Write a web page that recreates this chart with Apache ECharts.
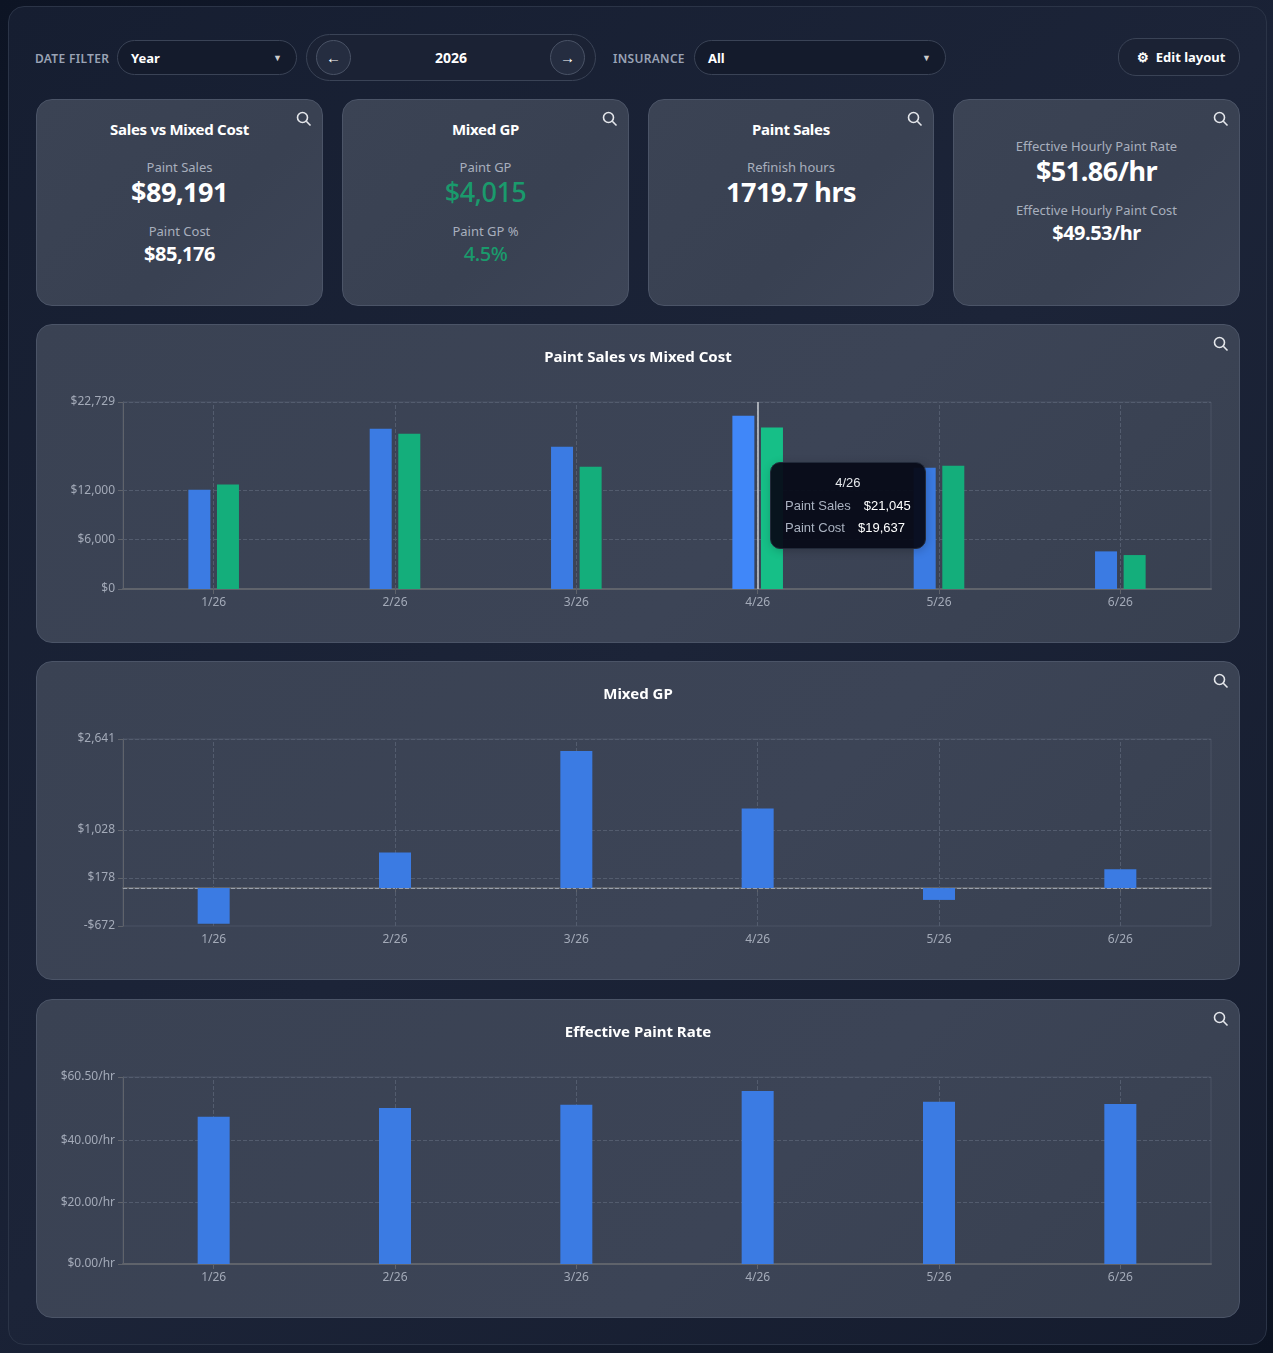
<!DOCTYPE html>
<html><head><meta charset="utf-8">
<script src="https://cdn.jsdelivr.net/npm/echarts@6/dist/echarts.min.js"></script>
<style>
*{box-sizing:border-box}
body{margin:0;width:1273px;height:1353px;background:linear-gradient(135deg,#0d1424,#1a2236 50%,#0c1322);font-family:"Noto Sans",sans-serif;color:#e5e7eb;position:relative;overflow:hidden}
#outer{position:absolute;left:8px;top:6px;width:1259px;height:1339px;border:1px solid #2b3447;border-radius:16px;background:linear-gradient(135deg,#161e31,#1c2438 50%,#151c2e)}
.abs{position:absolute}
.lbl{font-size:12px;font-weight:600;color:#9aa3b5;letter-spacing:.3px}
.sel{border:1px solid #3a4356;border-radius:18px;background:#141b2c;height:35px;font-size:13px;font-weight:700;color:#fff;padding:8px 13px}
.sel span{position:absolute;right:14px;top:10px;font-size:9px;color:#ccc}
.card{position:absolute;border:1px solid #4b5467;border-radius:16px;background:linear-gradient(135deg,#3b4354,#394152 60%,#3d4557);text-align:center}
.card .t{font-size:15px;font-weight:700;color:#fff;margin-top:19px;letter-spacing:-.3px}
.card .s{font-size:13px;color:#a8afbd}
.card .v{font-weight:700;color:#fff;letter-spacing:-.5px}
.mag{position:absolute;right:10px;top:11px;width:16px;height:16px}
.panel{position:absolute;left:36px;width:1204px;height:319px;border:1px solid #4b5467;border-radius:16px;background:linear-gradient(135deg,#3a4253,#3c4456 60%,#384050)}
.panel .c{position:absolute;left:0;top:0;width:100%;height:100%}
</style></head><body>
<div id="outer"></div>
<div class="abs lbl" style="left:35px;top:50px">DATE FILTER</div>
<div class="abs sel" style="left:117px;top:40px;width:180px">Year<span>▼</span></div>
<div class="abs" style="left:306px;top:34px;width:290px;height:47px;border:1px solid #3a4356;border-radius:24px;background:#1b2234"></div>
<div class="abs" style="left:316px;top:40px;width:35px;height:35px;border:1px solid #4a5366;border-radius:50%;background:#252d40;text-align:center;line-height:33px;font-size:15px;color:#fff">←</div>
<div class="abs" style="left:550px;top:40px;width:35px;height:35px;border:1px solid #4a5366;border-radius:50%;background:#252d40;text-align:center;line-height:33px;font-size:15px;color:#fff">→</div>
<div class="abs" style="left:420px;top:48px;width:62px;text-align:center;font-size:14px;font-weight:700;color:#fff">2026</div>
<div class="abs lbl" style="left:613px;top:50px">INSURANCE</div>
<div class="abs sel" style="left:694px;top:40px;width:252px">All<span>▼</span></div>
<div class="abs sel" style="left:1118px;top:38px;width:122px;height:38px;padding:9px 0 0 18px;background:#1b2234">⚙&nbsp;&nbsp;Edit layout</div>

<div class="card" style="left:36px;top:99px;width:287px;height:207px">
 <div class="t">Sales vs Mixed Cost</div>
 <div class="s" style="margin-top:19px">Paint Sales</div>
 <div class="v" style="font-size:27px;line-height:32px">$89,191</div>
 <div class="s" style="margin-top:14px">Paint Cost</div>
 <div class="v" style="font-size:20px;line-height:28px">$85,176</div>
</div>
<div class="card" style="left:342px;top:99px;width:287px;height:207px">
 <div class="t">Mixed GP</div>
 <div class="s" style="margin-top:19px">Paint GP</div>
 <div class="v" style="font-size:27px;line-height:32px;color:#1a9a6c;font-weight:500">$4,015</div>
 <div class="s" style="margin-top:14px">Paint GP %</div>
 <div class="v" style="font-size:20px;line-height:28px;color:#1a9a6c;font-weight:500">4.5%</div>
</div>
<div class="card" style="left:648px;top:99px;width:286px;height:207px">
 <div class="t">Paint Sales</div>
 <div class="s" style="margin-top:19px">Refinish hours</div>
 <div class="v" style="font-size:27px;line-height:32px">1719.7 hrs</div>
</div>
<div class="card" style="left:953px;top:99px;width:287px;height:207px">
 <div class="s" style="margin-top:37px">Effective Hourly Paint Rate</div>
 <div class="v" style="font-size:27px;line-height:32px">$51.86/hr</div>
 <div class="s" style="margin-top:14px">Effective Hourly Paint Cost</div>
 <div class="v" style="font-size:20px;line-height:28px">$49.53/hr</div>
</div>

<div class="panel" style="top:324px"><div class="c" id="c1"></div></div>
<div class="panel" style="top:661px"><div class="c" id="c2"></div></div>
<div class="panel" style="top:999px"><div class="c" id="c3"></div></div>

<script>
const categories=['1/26','2/26','3/26','4/26','5/26','6/26'];
const paintSales=[12070,19465,17288,21045,14750,4573];
const paintCost=[12694,18860,14870,19637,14990,4125];
const mixedGP=[-630,630,2430,1408,-210,335];
const paintRate=[47.6,50.5,51.5,56.0,52.5,51.8];
const ticks1=[0,6000,12000,22729];
const ticks2=[-672,178,1028,2641];
const ticks3=[0,20,40,60.5];

const magSvg='<svg class="mag" viewBox="0 0 16 16"><circle cx="6.5" cy="6.5" r="5" fill="none" stroke="#e5e7eb" stroke-width="1.6"/><line x1="10.3" y1="10.3" x2="14.5" y2="14.5" stroke="#e5e7eb" stroke-width="1.6"/></svg>';
document.querySelectorAll('.card,.panel').forEach(e=>e.insertAdjacentHTML('beforeend',magSvg));

const money=v=>(v<0?'-$':'$')+Math.abs(Math.round(v)).toLocaleString('en-US');
const axisLbl={color:'#a3aab8',fontSize:12,fontFamily:'Noto Sans'};
const gridStyle={color:'#535c6e',type:'dashed',width:1};
function build(title,ticks,fmt,series){
 series.forEach(s=>s.z=5);
 const grid=[...ticks.slice(1).map(v=>({yAxis:v})),...categories.map(c=>({xAxis:c}))];
 series.push({type:'line',data:[],silent:true,z:1,markLine:{silent:true,symbol:'none',label:{show:false},lineStyle:gridStyle,data:grid}});
 return{
 animation:false,
 title:{text:title,left:'center',top:20,textStyle:{color:'#fff',fontSize:15,fontWeight:'bold',fontFamily:'Noto Sans'}},
 grid:{left:86,right:28,top:77,bottom:53,show:true,borderColor:'#4a5365',borderWidth:1},
 xAxis:{type:'category',data:categories,axisLine:{lineStyle:{color:'#5f636b',width:2}},axisTick:{show:true,alignWithLabel:true,lineStyle:{color:'#5f636b'}},axisLabel:axisLbl,splitLine:{show:false}},
 yAxis:{type:'value',min:ticks[0],max:ticks[ticks.length-1],axisLine:{show:true,lineStyle:{color:'#5f636b'}},
  axisTick:{show:true,customValues:ticks,lineStyle:{color:'#5f636b'}},
  axisLabel:Object.assign({},axisLbl,{customValues:ticks,formatter:fmt}),splitLine:{show:false}},
 series};
}
const c1=echarts.init(document.getElementById('c1'));
const o1=build('Paint Sales vs Mixed Cost',ticks1,money,[
 {name:'Paint Sales',type:'bar',data:paintSales,barWidth:22,barGap:'30%',itemStyle:{color:'#3b7be3'}},
 {name:'Paint Cost',type:'bar',data:paintCost,barWidth:22,itemStyle:{color:'#14ae7b'}}]);
o1.tooltip={trigger:'axis',alwaysShowContent:true,axisPointer:{type:'line',lineStyle:{color:'#c8ccd3',width:1.5,type:'solid'}},
 backgroundColor:'rgba(7,11,24,0.95)',borderColor:'#222a3a',borderRadius:10,padding:[9,14],
 position:()=>[733,137],
 formatter:p=>{p=p.filter(x=>x.seriesType==='bar');return '<div style="text-align:center;color:#e5e7eb;font-size:13px;margin-bottom:2px">'+p[0].name+'</div>'+
  p.map(x=>'<div style="font-size:13px;line-height:22px"><span style="color:#aab2c0">'+x.seriesName+'</span><span style="color:#fff;margin-left:13px">'+money(x.value)+'</span></div>').join('')}};
c1.setOption(o1);
c1.dispatchAction({type:'showTip',seriesIndex:0,dataIndex:3});

const c2=echarts.init(document.getElementById('c2'));
const o2=build('Mixed GP',ticks2,money,[{type:'bar',data:mixedGP,barWidth:32,itemStyle:{color:'#3b7be3'},
 markLine:{silent:true,symbol:'none',label:{show:false},lineStyle:{color:'#9aa1ad',type:'dashed',width:1},data:[{yAxis:0}]}}]);
c2.setOption(o2);

const c3=echarts.init(document.getElementById('c3'));
const o3=build('Effective Paint Rate',ticks3,v=>'$'+v.toFixed(2)+'/hr',[{type:'bar',data:paintRate,barWidth:32,itemStyle:{color:'#3b7be3'}}]);
c3.setOption(o3);
</script></body></html>
